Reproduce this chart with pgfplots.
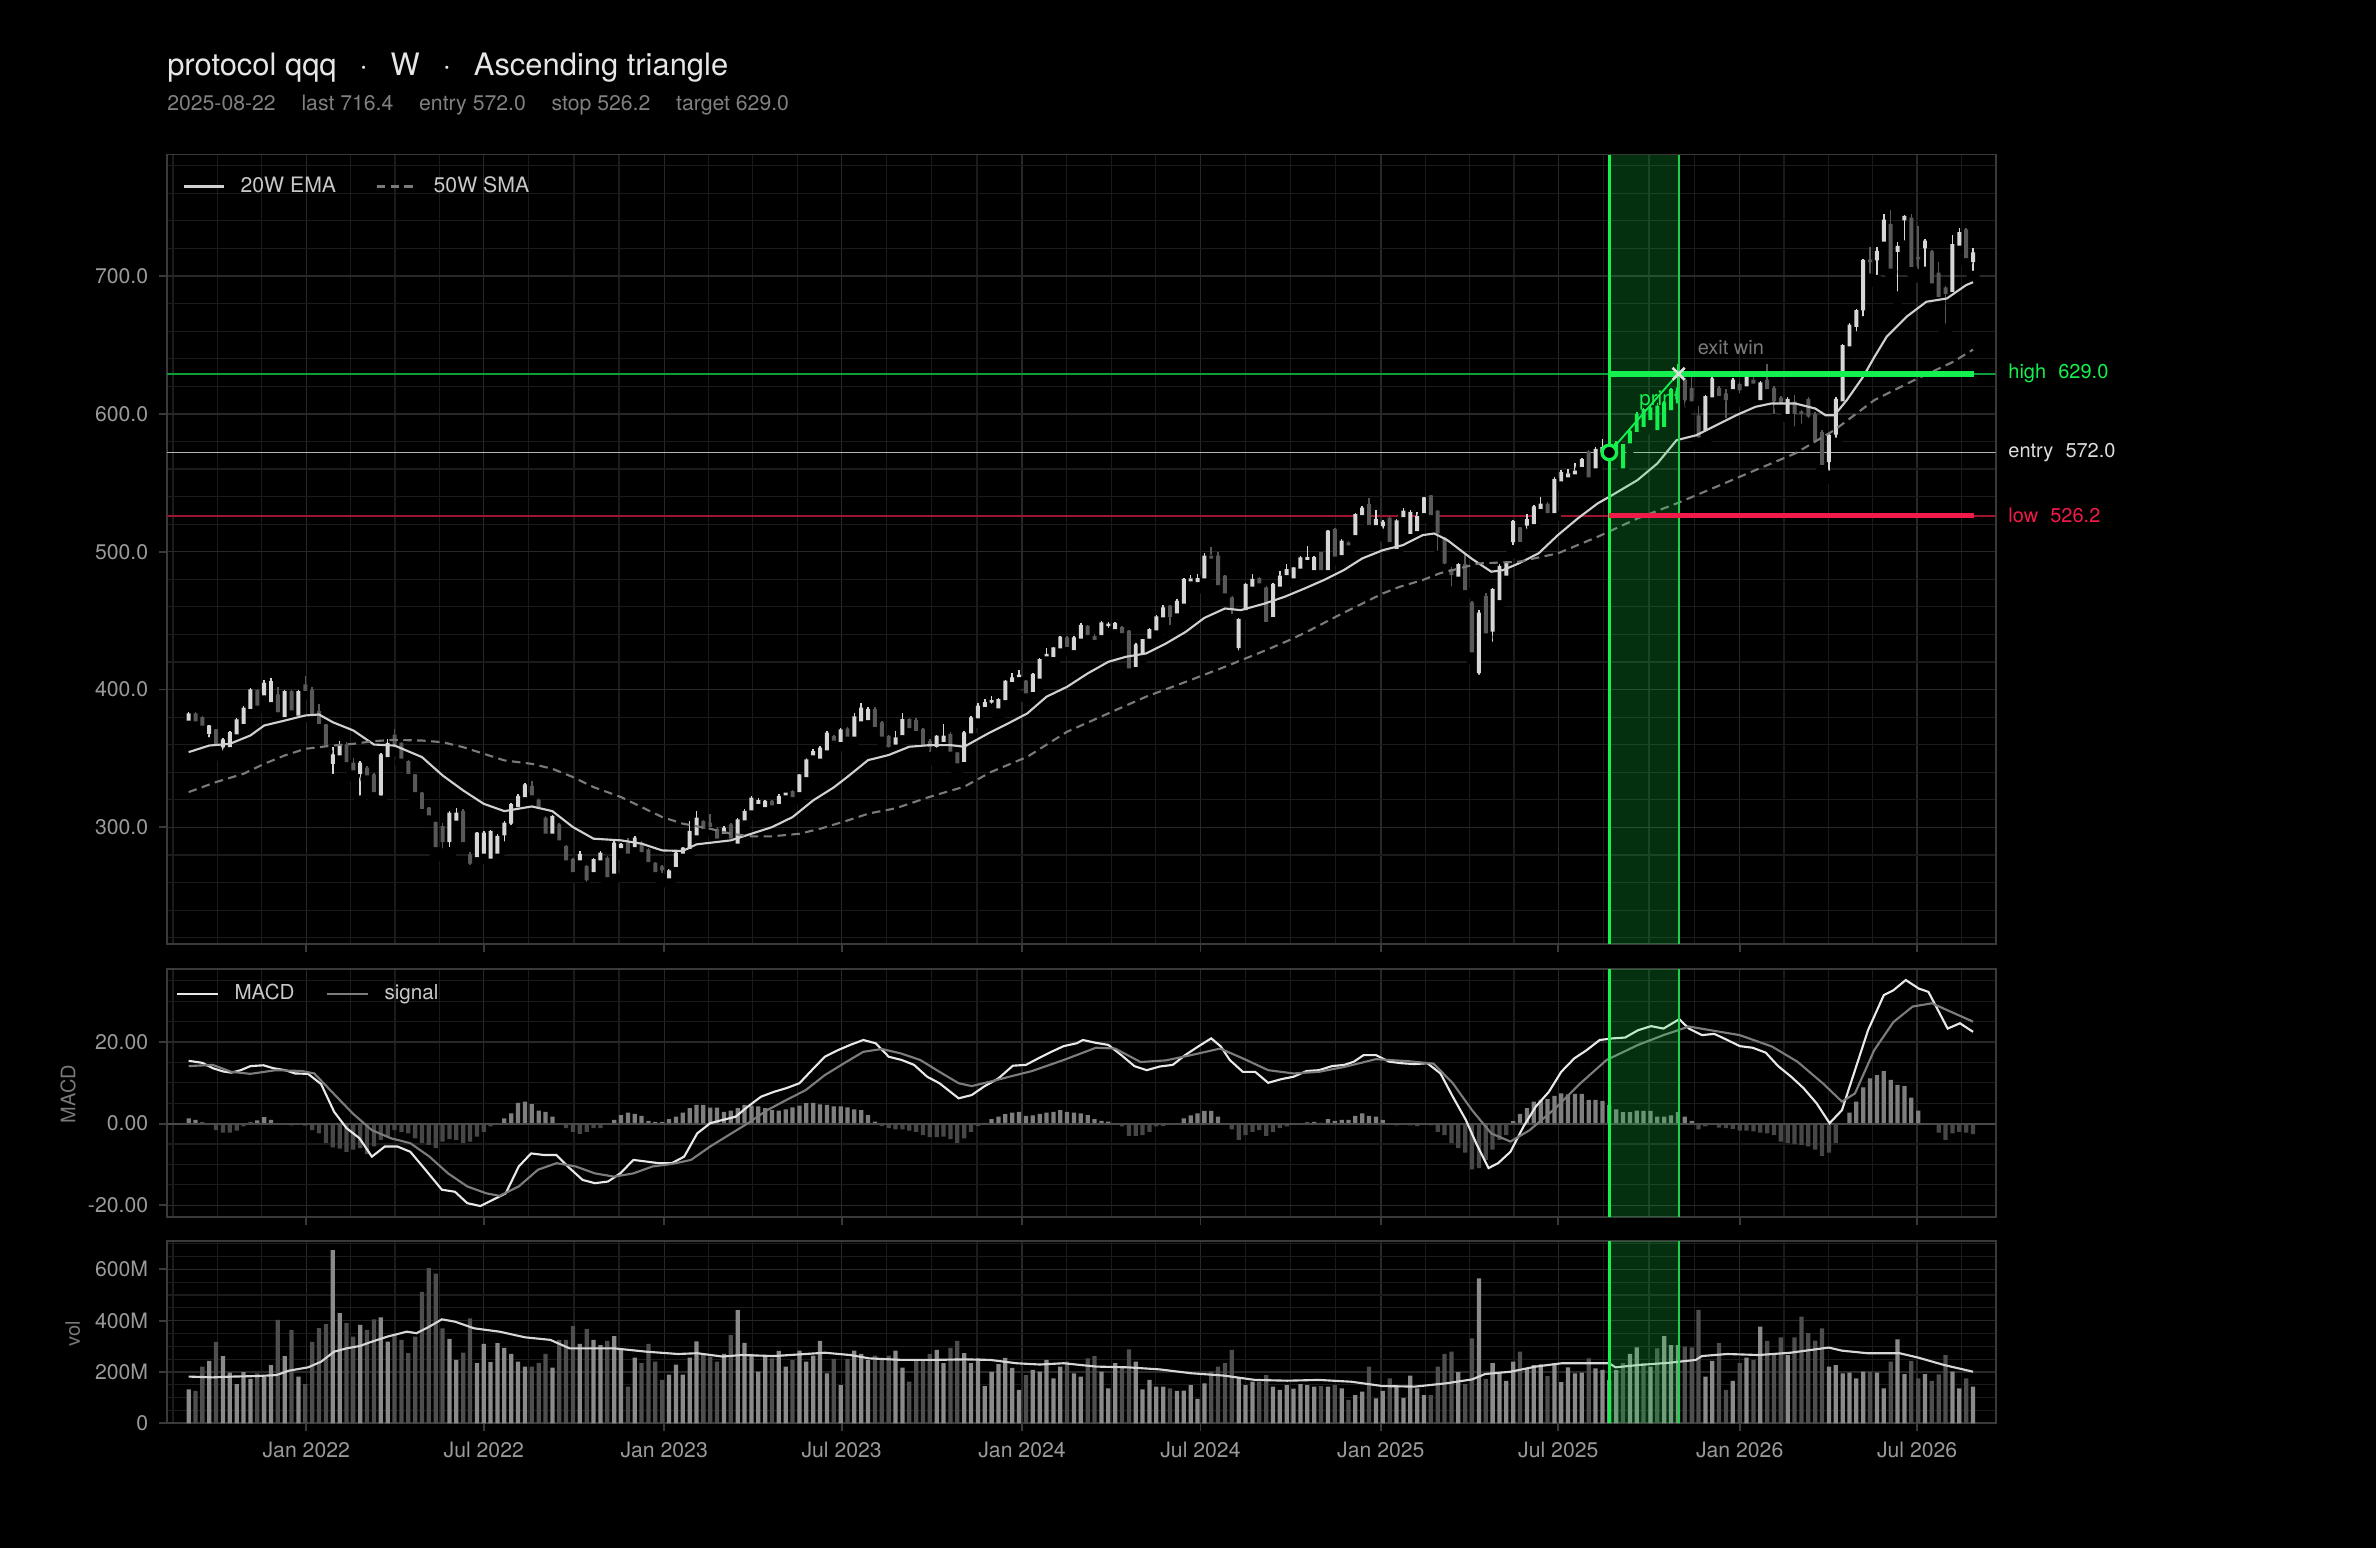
\documentclass[border=0pt]{standalone}
\usepackage{fontspec}
\setmainfont{TeX Gyre Heros}
\usepackage{pgfplots}
\usepackage{pgfplotstable}
\pgfplotsset{compat=1.18}

\definecolor{framegray}{HTML}{3A3A3A}
\definecolor{gridmajor}{HTML}{282828}
\definecolor{gridminor}{HTML}{1B1B1B}
\definecolor{ticklab}{HTML}{9A9A9A}
\definecolor{titlecol}{HTML}{E6E6E6}
\definecolor{subcol}{HTML}{808080}
\definecolor{cup}{HTML}{D6D6D6}
\definecolor{cdown}{HTML}{585858}
\definecolor{emacol}{HTML}{D0D0D0}
\definecolor{smacol}{HTML}{7A7A7A}
\definecolor{siggreen}{HTML}{14F04E}
\definecolor{thingreen}{HTML}{0E9E38}
\definecolor{sigred}{HTML}{F21A48}
\definecolor{thinred}{HTML}{9E1530}
\definecolor{entrycol}{HTML}{B4B4B4}
\definecolor{winedge}{HTML}{1FD04A}
\definecolor{volup}{HTML}{8A8A8A}
\definecolor{voldown}{HTML}{4E4E4E}
\definecolor{histup}{HTML}{7E7E7E}
\definecolor{histdown}{HTML}{474747}
\definecolor{macdcol}{HTML}{E8E8E8}
\definecolor{sigcol}{HTML}{7C7C7C}
\definecolor{legtext}{HTML}{C8C8C8}
\definecolor{labgray}{HTML}{7A7A7A}
\definecolor{xgray}{HTML}{DDDDDD}
\definecolor{zerogray}{HTML}{4A4A4A}

% weekly candles: i = week index (0 = first week, 207 = 2025-08-22)
\pgfplotstableread{
i o c h l v
0 377.5 381.9 383.5 376.0 132
1 381.9 377.0 383.5 375.5 126
2 379.2 373.9 380.5 369.5 221
3 367.9 373.2 374.5 360.6 243
4 370.3 360.6 371.5 354.6 317
5 358.0 363.0 365.0 351.0 262
6 358.2 368.4 370.0 356.0 197
7 367.4 377.5 379.0 365.5 153
8 375.1 386.0 388.0 373.5 199
9 386.0 399.3 401.0 384.5 173
10 398.8 388.4 400.5 386.5 195
11 395.7 404.1 407.0 393.0 182
12 390.8 405.3 408.5 388.0 227
13 395.7 383.6 401.7 378.7 403
14 380.0 398.0 400.0 378.0 262
15 398.0 384.8 399.5 382.0 364
16 381.0 398.0 399.5 379.0 182
17 403.0 399.0 410.0 397.5 153
18 399.3 381.2 402.0 379.0 317
19 383.6 375.1 389.6 370.3 371
20 373.9 359.4 375.0 355.0 386
21 346.1 352.2 358.2 334.0 675
22 352.2 358.2 363.0 350.0 429
23 359.4 347.3 362.0 345.0 390
24 346.1 341.3 350.0 338.0 338
25 338.9 346.1 348.0 318.4 383
26 342.5 337.7 344.5 335.0 364
27 337.7 325.6 339.5 322.0 405
28 323.2 352.2 354.0 318.4 413
29 351.0 360.6 364.0 348.5 318
30 366.5 358.2 371.5 356.0 348
31 360.6 349.8 362.0 347.0 325
32 347.3 338.9 349.0 336.0 273
33 337.7 325.6 339.0 322.0 338
34 324.4 313.5 326.0 311.0 512
35 313.5 308.7 315.0 305.0 604
36 303.1 285.7 305.0 282.0 583
37 300.2 289.4 303.0 280.0 370
38 289.4 309.9 312.0 280.9 329
39 305.0 309.9 314.0 302.0 247
40 311.1 289.4 313.0 287.0 275
41 279.7 273.7 282.0 268.0 409
42 278.5 295.4 297.0 276.0 234
43 280.9 295.4 297.5 278.0 309
44 277.3 296.6 298.0 275.0 238
45 280.9 293.0 295.0 279.0 312
46 294.2 302.7 304.5 285.0 294
47 302.7 316.0 318.0 297.0 270
48 314.7 322.0 324.0 312.0 240
49 322.0 330.4 332.0 320.0 221
50 329.2 323.2 334.0 321.0 221
51 319.6 314.7 321.0 312.0 235
52 306.3 295.4 308.0 293.0 270
53 295.4 307.5 309.0 292.0 217
54 301.4 290.6 303.0 288.0 325
55 285.7 276.1 287.0 274.0 325
56 276.1 267.6 278.0 265.0 379
57 276.0 280.0 283.0 273.0 309
58 271.3 261.6 273.0 255.6 368
59 267.6 276.1 278.0 265.0 325
60 276.1 280.9 283.0 274.0 305
61 277.3 264.0 279.0 261.0 321
62 266.4 288.2 290.0 263.5 340
63 285.0 287.0 289.0 281.0 288
64 288.2 281.0 292.0 279.0 143
65 285.7 291.8 294.0 283.0 256
66 288.2 282.1 290.0 280.0 234
67 283.3 274.9 285.0 273.0 309
68 273.7 267.6 275.0 265.0 240
69 271.0 269.0 273.0 262.0 169
70 263.0 268.0 270.0 260.0 190
71 271.3 280.9 283.0 269.0 229
72 280.9 284.5 286.0 279.0 190
73 284.5 296.6 305.0 283.0 256
74 294.2 306.3 312.0 292.0 319
75 303.9 299.0 305.5 297.0 266
76 302.7 300.2 310.0 298.0 260
77 298.0 291.8 300.0 289.0 240
78 295.4 299.0 301.0 293.0 270
79 301.4 291.8 303.0 288.0 344
80 288.2 305.1 307.0 286.0 441
81 305.1 311.1 313.0 303.0 313
82 312.3 320.8 323.0 310.0 270
83 317.0 319.0 321.0 315.0 201
84 314.7 318.4 320.0 313.0 260
85 318.4 316.0 320.0 314.0 253
86 317.1 322.0 324.0 315.0 282
87 323.2 324.4 326.0 321.0 221
88 325.6 322.0 327.0 320.0 247
89 325.6 337.7 339.0 324.0 283
90 336.5 348.6 350.0 335.0 240
91 352.2 354.6 357.0 350.0 264
92 349.8 357.0 359.0 348.0 321
93 355.8 367.9 370.0 354.0 195
94 365.5 363.0 367.0 361.0 251
95 362.0 370.3 372.0 360.0 149
96 371.0 365.8 373.0 363.0 251
97 365.8 379.8 382.7 364.0 283
98 377.0 386.0 390.0 375.0 270
99 377.8 385.1 387.0 376.0 247
100 385.0 373.0 387.0 371.0 264
101 375.4 365.8 377.0 364.0 253
102 365.8 358.5 367.0 353.0 264
103 360.0 364.5 370.0 358.0 283
104 367.0 377.8 383.0 365.0 217
105 377.8 372.0 379.0 370.0 162
106 377.0 370.0 379.0 368.0 244
107 370.6 359.7 372.0 357.0 247
108 362.0 358.5 364.0 350.0 270
109 358.5 365.8 367.0 353.0 286
110 362.0 365.8 375.0 360.0 234
111 367.0 355.0 369.0 353.0 294
112 353.7 346.4 355.0 342.0 321
113 347.6 368.2 370.0 346.0 273
114 368.2 379.0 381.0 366.0 234
115 379.0 387.5 390.0 377.0 253
116 387.5 390.0 393.0 385.0 145
117 390.5 391.5 395.0 385.0 200
118 386.3 392.3 394.0 382.0 231
119 392.3 405.6 407.0 390.0 255
120 405.6 408.0 412.0 403.0 216
121 409.0 410.0 414.0 405.0 130
122 405.6 397.2 407.0 395.0 188
123 398.4 410.5 412.0 397.0 208
124 408.0 421.3 423.0 404.0 201
125 424.0 425.0 430.0 420.0 247
126 423.7 429.8 431.0 420.0 175
127 429.8 437.5 439.0 428.0 221
128 437.0 431.0 439.0 429.0 240
129 428.6 437.0 438.5 427.0 195
130 437.0 446.2 448.0 435.0 182
131 445.5 439.5 447.0 437.0 253
132 438.0 436.0 440.0 434.0 262
133 439.5 448.0 450.0 437.0 201
134 446.0 447.0 449.0 440.0 136
135 443.8 447.5 449.0 442.0 234
136 444.5 441.0 446.0 439.0 221
137 442.0 415.3 443.0 414.0 288
138 416.5 432.0 434.0 414.0 240
139 426.0 435.8 437.0 424.0 132
140 437.0 443.0 444.5 435.0 169
141 443.0 452.3 454.0 441.0 143
142 452.3 458.8 461.0 450.0 143
143 460.0 452.8 461.5 442.0 136
144 455.3 463.6 466.0 453.0 126
145 462.4 479.4 481.0 461.0 127
146 478.4 479.8 483.0 476.0 149
147 478.0 480.0 484.0 474.0 95
148 480.7 496.4 499.0 479.0 156
149 496.4 495.0 503.5 493.0 201
150 496.4 475.8 500.0 474.0 221
151 481.8 469.7 483.0 467.0 234
152 466.0 457.6 467.5 450.0 286
153 430.0 450.4 452.0 423.6 178
154 457.6 475.8 477.0 455.0 149
155 474.6 479.4 484.0 473.0 162
156 480.0 477.0 481.5 475.0 162
157 473.3 449.1 475.0 447.0 188
158 452.8 475.8 477.0 450.0 143
159 474.6 481.8 486.0 473.0 130
160 483.0 486.6 491.0 481.0 149
161 480.6 487.8 489.0 479.0 135
162 487.8 495.0 497.0 486.0 153
163 494.0 495.2 504.0 490.0 149
164 486.6 495.2 497.0 485.0 143
165 498.8 486.6 500.0 485.0 145
166 486.6 514.4 516.0 485.0 143
167 515.6 496.4 517.0 495.0 149
168 497.6 507.2 509.0 496.0 136
169 506.0 504.5 508.0 502.0 91
170 512.0 526.5 528.0 510.0 110
171 526.5 531.2 533.0 525.0 123
172 533.7 519.2 538.6 517.0 221
173 519.2 522.8 530.0 517.0 97
174 518.5 521.0 523.0 512.0 126
175 524.0 507.2 526.0 505.0 175
176 502.0 522.0 524.0 500.0 149
177 525.0 528.9 532.0 523.0 99
178 513.0 528.0 530.0 511.0 186
179 515.0 525.0 528.9 512.0 136
180 528.0 538.6 540.0 526.0 110
181 540.0 526.5 541.0 524.0 110
182 529.0 513.2 530.0 496.0 221
183 509.6 491.4 511.0 486.0 270
184 486.6 483.0 489.0 470.0 279
185 482.0 490.2 492.0 480.0 199
186 490.2 472.1 498.0 470.0 153
187 462.4 427.0 464.0 423.0 331
188 412.0 455.0 458.0 406.0 565
189 467.0 440.7 470.0 438.0 173
190 442.0 472.3 474.0 430.0 234
191 464.9 489.0 491.0 463.0 195
192 482.7 491.0 493.0 480.0 165
193 507.0 521.4 523.0 500.0 240
194 516.8 507.2 518.0 503.0 279
195 519.0 522.8 527.0 512.0 214
196 520.0 532.0 534.0 518.0 227
197 531.0 534.0 540.0 529.0 230
198 534.0 528.0 536.0 526.0 184
199 528.0 552.0 554.0 526.0 234
200 551.0 557.0 559.0 549.0 160
201 554.0 556.0 560.0 552.0 218
202 556.0 558.0 564.0 554.0 195
203 561.6 566.4 568.0 560.0 197
204 572.0 553.9 574.0 551.0 253
205 560.4 573.7 576.0 558.0 214
206 572.0 575.0 582.0 570.0 208
207 568.0 575.0 577.0 566.0 169
208 574.0 578.0 580.0 571.0 208
209 577.3 560.4 578.0 558.0 234
210 578.5 586.9 589.0 576.0 270
211 586.9 599.1 601.0 586.0 296
212 602.7 590.6 604.0 588.0 234
213 595.4 603.9 606.0 594.0 221
214 605.1 588.2 607.5 587.0 292
215 590.6 607.5 609.0 589.0 340
216 602.7 617.2 619.0 600.0 305
217 607.5 618.4 636.5 606.0 305
218 624.0 610.0 626.0 600.0 299
219 618.0 609.0 630.0 607.0 296
220 598.0 583.0 606.0 578.0 442
221 588.0 612.0 614.0 582.0 182
222 612.0 625.0 627.0 610.0 243
223 618.0 613.0 620.0 611.0 312
224 614.0 610.0 618.0 592.0 130
225 618.0 624.0 626.0 616.0 165
226 621.0 617.0 623.0 610.0 234
227 620.0 626.0 628.0 618.0 256
228 624.0 622.0 628.0 620.0 247
229 610.0 622.0 624.0 608.0 377
230 624.0 618.0 636.0 616.0 321
231 618.0 609.0 620.0 595.0 270
232 611.0 608.0 613.0 605.0 335
233 600.0 610.0 612.0 598.0 266
234 608.0 600.0 614.0 586.0 335
235 601.0 600.0 603.0 588.0 416
236 610.0 598.0 612.0 592.0 351
237 599.0 580.0 601.0 578.0 322
238 586.0 563.0 588.0 558.0 370
239 565.0 584.0 586.0 554.0 221
240 585.0 610.0 612.0 578.0 227
241 609.0 649.0 651.0 607.0 195
242 649.0 664.0 666.0 645.0 197
243 663.0 674.5 676.0 655.0 175
244 675.0 710.8 712.0 666.0 201
245 711.0 710.0 721.0 697.0 201
246 711.4 717.5 721.0 696.0 197
247 725.0 740.0 745.0 723.0 136
248 737.0 705.4 748.0 703.0 240
249 717.5 721.0 724.8 684.0 327
250 740.4 742.8 744.0 721.0 192
251 741.6 706.6 745.0 704.0 243
252 713.0 712.0 736.0 700.0 175
253 720.0 724.8 727.0 702.0 192
254 717.0 694.7 719.0 690.0 165
255 701.7 684.9 710.0 680.0 191
256 691.0 687.0 693.0 660.7 266
257 688.4 722.3 730.0 686.0 201
258 722.0 731.0 735.0 720.0 136
259 733.0 713.0 735.0 711.0 175
260 710.0 716.4 720.0 699.0 143
}\candles

\pgfplotstableread[row sep=\\]{
i v\\ 0 354.6\\ 3 359.4\\ 6 360.6\\ 9 366.7\\ 11 373.9\\ 14 377.5\\ 17 381.2\\ 19 381.9\\ 21 376.3\\ 24 370.3\\
27 360.1\\ 30 359.4\\ 34 351.0\\ 37 337.7\\ 40 326.8\\ 43 317.1\\ 46 311.8\\ 50 315.2\\ 53 311.8\\ 56 300.2\\
59 291.8\\ 63 290.6\\ 66 288.2\\ 69 283.3\\ 72 282.9\\ 74 287.7\\ 79 290.6\\ 82 295.4\\ 85 300.2\\ 88 307.5\\
91 319.6\\ 94 329.0\\ 96 336.7\\ 99 348.8\\ 102 352.5\\ 105 358.5\\ 108 359.7\\ 111 359.7\\ 113 358.5\\ 116.5 368.2\\
119.4 375.4\\ 122.2 382.7\\ 125 394.8\\ 128 402.0\\ 131 411.7\\ 134 420.1\\ 136.6 423.8\\ 139.5 426.2\\ 142.4 433.4\\ 145.3 441.9\\
148 452.0\\ 151 458.8\\ 153.3 457.6\\ 156.8 462.4\\ 159.7 467.3\\ 162.6 473.3\\ 165.4 479.4\\ 168.3 486.6\\ 171 495.1\\ 174 501.1\\
176.9 504.7\\ 179.8 512.0\\ 181.5 513.2\\ 183.4 508.4\\ 186.9 495.1\\ 189.8 485.5\\ 191.5 486.6\\ 193.8 491.5\\ 196.7 498.8\\ 199.5 512.0\\
202.4 524.1\\ 205.3 535.0\\ 207 539.8\\ 211.1 551.9\\ 214 564.0\\ 216.8 580.9\\ 219.7 584.5\\ 222.6 591.8\\ 225.5 599.0\\ 228.3 605.1\\
230.6 607.5\\ 234.1 607.5\\ 237 603.9\\ 238.5 599.0\\ 239.8 599.0\\ 241.6 609.9\\ 244 627.0\\ 245.6 641.0\\ 247.4 655.8\\ 250.3 670.4\\
253.2 681.3\\ 256.2 683.7\\ 257.6 688.6\\ 259 693.4\\ 260 695.5\\
}\ema

\pgfplotstableread[row sep=\\]{
i v\\ 0 325.6\\ 4 332.9\\ 8 338.9\\ 11 346.1\\ 14 352.2\\ 17 357.0\\ 21 359.4\\ 24 360.6\\ 27 362.6\\ 30 363.5\\
34 363.0\\ 37 361.8\\ 40 358.2\\ 43 353.4\\ 46 348.6\\ 50 346.1\\ 53 342.5\\ 56 336.5\\ 59 329.2\\ 63 322.0\\
66 314.7\\ 69 307.5\\ 72 302.7\\ 76 299.0\\ 79 295.4\\ 82 293.5\\ 85 293.5\\ 89 295.4\\ 92 299.0\\ 96 305.0\\
99.2 310.2\\ 103 313.8\\ 108 322.2\\ 113 329.5\\ 117 340.4\\ 122.2 351.2\\ 128 369.4\\ 134 382.7\\ 139.5 394.8\\ 145.3 405.6\\
151 416.5\\ 157 428.6\\ 160 435.0\\ 163 442.0\\ 168 455.0\\ 174 469.7\\ 176.5 474.6\\ 179.8 479.4\\ 182.3 484.3\\ 188 491.5\\
193.8 492.7\\ 199.5 498.8\\ 205.3 510.8\\ 211.1 524.1\\ 216.8 535.0\\ 222.6 547.1\\ 228.3 559.2\\ 234.1 571.3\\ 239.8 588.2\\ 245.6 609.9\\
251.4 624.4\\ 257.1 637.7\\ 260 646.6\\
}\sma

\pgfplotstableread[row sep=\\]{
i v\\ 0 15.4\\ 2 14.9\\ 3.5 13.6\\ 5 12.8\\ 6.2 12.5\\ 7.6 13.1\\ 9 14.1\\ 10.9 14.3\\ 12.3 13.6\\ 14.1 13.1\\
15.5 12.3\\ 17.4 12.2\\ 19.3 9.7\\ 21.2 2.9\\ 23 -1.1\\ 24.9 -3.6\\ 26.7 -8.1\\ 28.6 -5.6\\ 30.4 -5.6\\ 32.3 -6.9\\
34.1 -10.5\\ 36.9 -16.2\\ 38.8 -16.7\\ 40.6 -19.5\\ 42.5 -20.2\\ 44.3 -18.7\\ 46.2 -17.1\\ 48.1 -10.5\\ 49.9 -7.3\\ 51.8 -7.7\\
53.6 -7.7\\ 55.5 -10.9\\ 57.4 -13.8\\ 59.2 -14.6\\ 61.1 -14.2\\ 62.9 -12.2\\ 64.8 -8.9\\ 66.7 -9.3\\ 68.5 -9.7\\ 70.4 -9.7\\
72.2 -8.1\\ 74.1 -2.4\\ 76 0.1\\ 77.8 0.9\\ 79.7 1.7\\ 81.5 4.2\\ 83.4 6.6\\ 85.3 7.8\\ 87.1 8.7\\ 89 9.9\\
90.8 13.1\\ 92.7 16.4\\ 94.6 18.0\\ 96.4 19.3\\ 98.3 20.5\\ 100.1 19.7\\ 102 16.4\\ 103.9 15.6\\ 105.7 14.4\\ 107.6 11.5\\
109.4 9.9\\ 112.2 6.2\\ 114.1 7.0\\ 115.9 9.1\\ 118 11.1\\ 120.1 14.2\\ 122 14.4\\ 123.8 16.0\\ 125.7 17.6\\ 127.5 19.0\\
129.4 19.7\\ 130.3 20.5\\ 132.2 19.8\\ 134 19.3\\ 135.9 16.8\\ 137.8 14.1\\ 139.6 13.1\\ 141.5 14.0\\ 143.4 14.4\\ 145.2 16.8\\
147.1 18.9\\ 149 20.9\\ 150.4 18.9\\ 151.7 15.6\\ 153.6 12.7\\ 155.4 12.7\\ 157.3 10.0\\ 159.2 10.9\\ 161 11.5\\ 162.9 12.9\\
164.7 13.1\\ 166.6 14.1\\ 168.4 14.4\\ 169.8 15.2\\ 171.2 16.8\\ 173 16.8\\ 174.9 15.2\\ 176.8 14.8\\ 178.6 14.6\\ 180.5 14.8\\
182.4 12.3\\ 184.2 6.6\\ 186.1 0.9\\ 187.6 -4.8\\ 189.4 -10.9\\ 190.8 -9.7\\ 192.6 -6.9\\ 194.5 -0.7\\ 196.3 4.2\\ 198.2 7.8\\
200 12.7\\ 201.9 16.0\\ 203.7 18.0\\ 205.6 20.5\\ 207.5 20.9\\ 209.3 21.1\\ 211.2 22.9\\ 213.1 23.9\\ 214.9 23.3\\ 217.2 25.6\\
218.6 23.3\\ 220.5 21.7\\ 222.3 22.0\\ 224.2 20.5\\ 226 19.0\\ 227.9 18.6\\ 229.8 17.4\\ 231.6 14.1\\ 233.5 11.5\\ 235.3 8.7\\
237.2 5.0\\ 239.1 0.1\\ 240.9 3.3\\ 242.8 13.1\\ 244.7 22.9\\ 247 31.5\\ 248.4 32.7\\ 250.2 35.2\\ 252.1 33.1\\ 253.5 32.3\\
254.9 27.8\\ 256.3 23.3\\ 258.1 24.6\\ 260 22.5\\
}\macd

\pgfplotstableread[row sep=\\]{
i v\\ 0 14.1\\ 3.5 14.4\\ 6.2 12.7\\ 9 12.2\\ 12.7 13.1\\ 16.5 12.9\\ 18.3 12.3\\ 21.1 7.4\\ 23.9 2.5\\ 26.7 -1.6\\
29.5 -3.6\\ 32.3 -4.8\\ 35.1 -8.1\\ 37.8 -12.2\\ 40.6 -15.4\\ 43.4 -17.1\\ 45.3 -17.7\\ 48.1 -15.4\\ 50.9 -11.3\\ 53.6 -9.7\\
56.4 -10.5\\ 59.2 -12.2\\ 62 -13.0\\ 64.8 -12.2\\ 67.6 -10.5\\ 70.4 -9.9\\ 73.2 -8.9\\ 76 -5.6\\ 78.7 -2.8\\ 81.5 0.1\\
84.3 3.3\\ 87.1 5.8\\ 89.9 8.2\\ 92.7 11.9\\ 95.5 14.8\\ 98.3 17.6\\ 101 18.3\\ 103.8 17.2\\ 106.6 15.6\\ 109.4 12.7\\
112.2 9.9\\ 114.1 9.2\\ 116.8 10.3\\ 119.6 11.5\\ 122.9 12.9\\ 127.5 15.6\\ 132.2 18.6\\ 135 18.4\\ 138.7 15.1\\ 142.4 15.5\\
146.1 16.8\\ 150.3 18.4\\ 153.6 16.0\\ 157.3 13.1\\ 161 12.3\\ 164.7 12.7\\ 168.4 13.9\\ 173 15.8\\ 177.8 15.3\\ 181.4 14.7\\
184.2 9.9\\ 187 3.3\\ 189.8 -2.4\\ 192.6 -4.4\\ 195.4 -1.6\\ 199.1 3.7\\ 202.8 9.9\\ 206.6 15.6\\ 211.2 19.3\\ 214.9 21.7\\
218.6 23.8\\ 221.4 23.0\\ 226 21.7\\ 230.7 18.9\\ 234.4 15.2\\ 238.1 9.9\\ 240.9 5.4\\ 242.8 7.4\\ 245.6 18.0\\ 248.4 24.9\\
251.2 28.7\\ 254 29.5\\ 256.8 27.4\\ 260 25.0\\
}\signal

\pgfplotstableread[row sep=\\]{
i h\\ 0 1.3\\ 1 0.9\\ 2 0.3\\ 3 0.0\\ 4 -1.6\\ 5 -2.2\\ 6 -2.2\\ 7 -1.7\\ 8 -0.7\\ 9 0.3\\
10 0.8\\ 11 1.6\\ 12 0.9\\ 13 0.1\\ 14 0.1\\ 15 -0.4\\ 16 -0.3\\ 17 -0.5\\ 18 -1.6\\ 19 -2.4\\
20 -4.7\\ 21 -5.8\\ 22 -6.1\\ 23 -6.9\\ 24 -6.4\\ 25 -6.0\\ 26 -7.5\\ 27 -5.6\\ 28 -4.0\\ 29 -3.2\\
30 -1.6\\ 31 -2.0\\ 32 -2.4\\ 33 -3.6\\ 34 -4.7\\ 35 -5.2\\ 36 -6.0\\ 37 -4.4\\ 38 -3.8\\ 39 -4.0\\
40 -4.8\\ 41 -4.4\\ 42 -3.2\\ 43 -2.0\\ 44 -0.7\\ 45 0.0\\ 46 1.3\\ 47 2.5\\ 48 5.1\\ 49 5.4\\
50 4.8\\ 51 3.2\\ 52 2.9\\ 53 1.7\\ 54 0.0\\ 55 -1.1\\ 56 -2.0\\ 57 -2.5\\ 58 -2.0\\ 59 -1.1\\
60 -1.1\\ 61 0.0\\ 62 0.9\\ 63 2.1\\ 64 2.7\\ 65 2.4\\ 66 1.9\\ 67 0.7\\ 68 0.4\\ 69 0.4\\
70 1.1\\ 71 1.7\\ 72 2.7\\ 73 3.8\\ 74 4.6\\ 75 4.6\\ 76 3.9\\ 77 3.9\\ 78 2.9\\ 79 3.2\\
80 3.8\\ 81 4.6\\ 82 4.4\\ 83 4.2\\ 84 3.8\\ 85 3.3\\ 86 3.2\\ 87 3.5\\ 88 4.0\\ 89 4.4\\
90 5.0\\ 91 5.1\\ 92 4.7\\ 93 4.6\\ 94 4.2\\ 95 4.2\\ 96 4.0\\ 97 3.5\\ 98 3.3\\ 99 2.1\\
100 0.5\\ 101 -0.6\\ 102 -1.1\\ 103 -1.4\\ 104 -1.4\\ 105 -1.7\\ 106 -2.0\\ 107 -2.8\\ 108 -3.3\\ 109 -3.3\\
110 -3.2\\ 111 -3.8\\ 112 -4.7\\ 113 -3.6\\ 114 -2.0\\ 115 -0.6\\ 116 0.2\\ 117 1.1\\ 118 1.7\\ 119 2.3\\
120 2.7\\ 121 2.9\\ 122 1.9\\ 123 2.0\\ 124 2.4\\ 125 2.7\\ 126 2.9\\ 127 3.3\\ 128 2.9\\ 129 2.7\\
130 2.5\\ 131 2.1\\ 132 1.1\\ 133 0.7\\ 134 0.5\\ 135 0.0\\ 136 -0.7\\ 137 -3.0\\ 138 -3.0\\ 139 -2.8\\
140 -2.0\\ 141 -0.7\\ 142 -0.6\\ 143 -0.3\\ 144 0.0\\ 145 1.3\\ 146 2.0\\ 147 2.5\\ 148 3.1\\ 149 3.1\\
150 1.7\\ 151 0.0\\ 152 -1.4\\ 153 -4.0\\ 154 -2.8\\ 155 -2.0\\ 156 -1.6\\ 157 -3.0\\ 158 -2.0\\ 159 -1.1\\
160 -0.7\\ 161 -0.3\\ 162 0.0\\ 163 0.3\\ 164 0.4\\ 165 0.2\\ 166 1.1\\ 167 0.7\\ 168 0.9\\ 169 0.9\\
170 1.9\\ 171 2.5\\ 172 1.9\\ 173 1.7\\ 174 0.9\\ 175 -0.2\\ 176 -0.4\\ 177 -0.2\\ 178 -0.4\\ 179 -0.6\\
180 0.0\\ 181 -0.4\\ 182 -2.0\\ 183 -2.8\\ 184 -4.8\\ 185 -6.0\\ 186 -7.1\\ 187 -11.2\\ 188 -10.9\\ 189 -8.9\\
190 -6.4\\ 191 -4.0\\ 192 -2.8\\ 193 0.6\\ 194 2.4\\ 195 3.8\\ 196 5.4\\ 197 5.8\\ 198 6.0\\ 199 6.8\\
200 7.4\\ 201 7.2\\ 202 7.3\\ 203 7.3\\ 204 5.8\\ 205 5.8\\ 206 5.6\\ 207 4.6\\ 208 3.5\\ 209 2.8\\
210 2.8\\ 211 3.2\\ 212 3.1\\ 213 3.1\\ 214 1.7\\ 215 1.7\\ 216 2.0\\ 217 2.8\\ 218 1.7\\ 219 0.7\\
220 -1.4\\ 221 -0.7\\ 222 -0.3\\ 223 -1.0\\ 224 -1.1\\ 225 -1.3\\ 226 -1.7\\ 227 -1.7\\ 228 -1.9\\ 229 -2.2\\
230 -2.4\\ 231 -2.8\\ 232 -4.4\\ 233 -4.7\\ 234 -5.0\\ 235 -5.2\\ 236 -5.6\\ 237 -6.4\\ 238 -7.9\\ 239 -7.1\\
240 -4.7\\ 241 0.0\\ 242 2.7\\ 243 5.4\\ 244 8.9\\ 245 11.1\\ 246 11.9\\ 247 12.9\\ 248 10.7\\ 249 9.5\\
250 9.2\\ 251 6.4\\ 252 3.2\\ 253 0.1\\ 254 0.0\\ 255 -2.2\\ 256 -4.0\\ 257 -2.4\\ 258 -2.0\\ 259 -2.2\\
260 -2.6\\
}\hist

\pgfplotstableread[row sep=\\]{
i v\\ 0 182\\ 3.5 179\\ 6.3 182\\ 10 184\\ 12.8 188\\ 14.6 205\\ 17.4 218\\ 19.3 240\\ 21.2 279\\ 23 292\\
24.9 301\\ 26.7 318\\ 29 338\\ 31.8 357\\ 33.2 351\\ 35.1 377\\ 36.9 405\\ 38.8 396\\ 41.6 370\\ 45.3 357\\
49 335\\ 52.7 325\\ 55.5 292\\ 59.2 292\\ 62 292\\ 66.7 279\\ 71.3 270\\ 74.1 273\\ 77.8 260\\ 80.6 266\\
85.3 262\\ 89.9 270\\ 92.7 275\\ 96.4 266\\ 99.2 253\\ 103.9 247\\ 108.5 247\\ 113.1 249\\ 116.8 247\\ 120.6 234\\
124 229\\ 127.5 234\\ 132.2 221\\ 136.9 218\\ 141.5 210\\ 146.1 195\\ 150.8 186\\ 155.4 169\\ 160.1 166\\ 164.7 169\\
169.4 162\\ 174 145\\ 178.7 143\\ 183.3 156\\ 187 171\\ 188.9 192\\ 192.6 201\\ 196.3 221\\ 200.1 234\\ 203.7 234\\
207 234\\ 207.9 218\\ 211.2 227\\ 215.8 236\\ 219.6 247\\ 220.5 262\\ 224.2 270\\ 228.8 266\\ 233.4 275\\ 238.1 292\\
239 295\\ 240.9 283\\ 244.6 273\\ 249.3 273\\ 252 256\\ 255.8 227\\ 260 201\\
}\volavg

\pgfplotsset{
  panel/.style={
    scale only axis, width=603.5pt, anchor=south west,
    xmin=-3.2, xmax=263.3, enlargelimits=false,
    axis line style={draw=framegray, line width=0.6pt},
    grid=both,
    major grid style={draw=gridmajor, line width=0.45pt},
    minor grid style={draw=gridminor, line width=0.4pt},
    xtick={17.14,43.0,69.29,95.14,121.43,147.43,173.71,199.57,226.0,251.86},
    minor xtick={-2.27,4.2,10.67,23.6,30.07,36.54,49.57,56.14,62.72,75.75,82.21,88.68,101.71,108.29,114.86,127.93,134.43,140.93,154.0,160.57,167.14,180.18,186.64,193.11,206.18,212.79,219.39,232.47,238.93,245.4,258.33},
    tick align=outside, major tick length=2.6pt, minor tick length=0pt,
    tick style={draw=framegray, line width=0.6pt},
    xtick pos=left, ytick pos=left,
    tick label style={font=\fontsize{7.0}{8}\selectfont, text=ticklab},
    /pgf/number format/assume math mode=true,
    clip mode=individual,
    legend image code/.code={\draw[##1] (0pt,0pt) -- (13.5pt,0pt);},
  },
  pricebox/.style={panel, at={(55pt,199.3pt)}, height=260.5pt, ymin=215.4, ymax=788.1},
  overlay/.style={pricebox, hide axis, grid=none},
  wick/.style={forget plot, only marks, mark=none,
    error bars/y dir=plus, error bars/y explicit, error bars/error mark=none,
    error bars/error bar style={draw=#1, line width=0.5pt}},
}
\newcommand{\inwin}{((\thisrow{i}>206.5)*(\thisrow{i}<217.5))}
\newcommand{\bodyh}{(abs(\thisrow{c}-\thisrow{o})+0.8)}
\newcommand{\isup}{((\thisrow{c}-\thisrow{o})>(-0.0001))}

\newcommand{\windowmarks}[2]{%
  \fill[siggreen, opacity=0.2] (axis cs:207,#1) rectangle (axis cs:217.2,#2);
  \draw[siggreen, line width=1.1pt] (axis cs:207,#1) -- (axis cs:207,#2);
  \draw[winedge, line width=0.6pt] (axis cs:217.2,#1) -- (axis cs:217.2,#2);
}

\begin{document}
\begin{tikzpicture}
\useasboundingbox (0,0) rectangle (784pt,510.8pt);
\fill[black] (0,0) rectangle (784pt,510.8pt);

\node[anchor=base west, inner sep=0, text=titlecol, font=\fontsize{10.2}{12}\selectfont] at (55pt,485.9pt)
  {protocol qqq\hspace{7.5pt}·\hspace{7.5pt}W\hspace{7.5pt}·\hspace{7.5pt}Ascending triangle};
\node[anchor=base west, inner sep=0, text=subcol, font=\fontsize{7.0}{8}\selectfont] at (55pt,474.2pt)
  {2025-08-22\hspace{8.5pt}last 716.4\hspace{8.5pt}entry 572.0\hspace{8.5pt}stop 526.2\hspace{8.5pt}target 629.0};

% ---------------- price panel: frame, grid, levels, wicks ----------------
\begin{axis}[pricebox,
  ytick={300,400,500,600,700}, yticklabels={300.0,400.0,500.0,600.0,700.0},
  minor ytick={220,240,...,780},
  xticklabels={},
]
\addplot[forget plot, thingreen, line width=0.7pt] coordinates {(-3.2,629) (263.3,629)};
\addplot[forget plot, entrycol, line width=0.55pt] coordinates {(-3.2,572) (263.3,572)};
\addplot[forget plot, thinred, line width=0.7pt] coordinates {(-3.2,526.2) (263.3,526.2)};
\addplot[forget plot, siggreen, line width=0.6pt] coordinates {(207,572) (217,629)};
\node[text=siggreen, font=\fontsize{6.8}{8}\selectfont, inner sep=0] at (axis cs:214.3,610) {print};
\addplot[wick=cup, restrict expr to domain={\thisrow{c}-\thisrow{o}+1000*\inwin}{0:500}]
  table[x=i, y=l, y error plus expr={\thisrow{h}-\thisrow{l}}]{\candles};
\addplot[wick=cdown, restrict expr to domain={\thisrow{c}-\thisrow{o}+1000*\inwin}{-500:-0.0001}]
  table[x=i, y=l, y error plus expr={\thisrow{h}-\thisrow{l}}]{\candles};
\addplot[wick=siggreen, restrict expr to domain={\thisrow{i}}{206.5:217.5}]
  table[x=i, y=l, y error plus expr={\thisrow{h}-\thisrow{l}}]{\candles};
\end{axis}

% ---------------- candle bodies (stacked bars on an invisible base) ----------------
\begin{axis}[overlay, ybar stacked, bar width=0.58]
\addplot[forget plot, draw=none, fill=none] table[x=i, y expr={min(\thisrow{o},\thisrow{c})}]{\candles};
\addplot[forget plot, draw=none, fill=cup] table[x=i, y expr={\bodyh*\isup*(1-\inwin)}]{\candles};
\addplot[forget plot, draw=none, fill=cdown] table[x=i, y expr={\bodyh*(1-\isup)*(1-\inwin)}]{\candles};
\addplot[forget plot, draw=none, fill=siggreen] table[x=i, y expr={\bodyh*\inwin}]{\candles};
\end{axis}

% ---------------- averages, trade window, levels, markers ----------------
\begin{axis}[overlay,
  legend columns=2,
  legend style={at={(0,1)}, anchor=north west, xshift=3pt, yshift=-3pt, draw=none, fill=none,
    inner sep=2pt, nodes={inner sep=2pt, text=legtext}, font=\fontsize{7.0}{8}\selectfont,
    /tikz/every odd column/.append style={column sep=3pt},
    /tikz/every even column/.append style={column sep=11pt}},
]
\addplot[emacol, line width=0.7pt] table[x=i, y=v]{\ema};
\addlegendentry{20W EMA}
\addplot[smacol, line width=0.7pt, dash pattern=on 2.8pt off 1.8pt] table[x=i, y=v]{\sma};
\addlegendentry{50W SMA}

\windowmarks{215.4}{788.1}

\addplot[forget plot, siggreen, line width=1.8pt] coordinates {(207,629) (260.1,629)};
\addplot[forget plot, sigred, line width=1.8pt] coordinates {(207,526.2) (260.1,526.2)};
\addplot[forget plot, only marks, mark=*, mark size=2.4pt, mark options={draw=siggreen, fill=black, line width=1.1pt}] coordinates {(207,572)};
\addplot[forget plot, only marks, mark=x, mark size=2.8pt, mark options={draw=xgray, line width=0.9pt}] coordinates {(217.1,629)};
\node[anchor=west, inner sep=0, text=labgray, font=\fontsize{6.6}{8}\selectfont] at (axis cs:219.8,648.4) {exit win};

\node[anchor=west, inner sep=0, xshift=4pt, text=siggreen, font=\fontsize{6.6}{8}\selectfont] at (axis cs:263.3,629) {high\hspace{4pt}629.0};
\node[anchor=west, inner sep=0, xshift=4pt, text=xgray, font=\fontsize{6.6}{8}\selectfont] at (axis cs:263.3,572) {entry\hspace{4pt}572.0};
\node[anchor=west, inner sep=0, xshift=4pt, text=sigred, font=\fontsize{6.6}{8}\selectfont] at (axis cs:263.3,526.2) {low\hspace{4pt}526.2};
\end{axis}

% ---------------- MACD panel ----------------
\begin{axis}[panel, at={(55pt,109.35pt)}, height=81.7pt,
  ymin=-22.8, ymax=37.9,
  ytick={-20,0,20}, yticklabels={-20.00,0.00,20.00},
  minor ytick={-20,-15,...,35},
  xticklabels={},
  legend columns=2,
  legend style={at={(0,1)}, anchor=north west, xshift=1pt, yshift=-0.8pt, draw=none, fill=none,
    inner sep=2pt, nodes={inner sep=2pt, text=legtext}, font=\fontsize{6.8}{8}\selectfont,
    /tikz/every odd column/.append style={column sep=3pt},
    /tikz/every even column/.append style={column sep=8.5pt}},
]
\addplot[forget plot, ybar, bar width=0.62, bar shift=0pt, fill=histup, draw=none, restrict y to domain=0:100] table[x=i, y=h]{\hist};
\addplot[forget plot, ybar, bar width=0.62, bar shift=0pt, fill=histdown, draw=none, restrict y to domain=-100:0] table[x=i, y=h]{\hist};
\addplot[forget plot, color=zerogray, line width=0.6pt] coordinates {(-3.2,0) (263.3,0)};
\addplot[macdcol, line width=0.7pt] table[x=i, y=v]{\macd};
\addlegendentry{MACD}
\addplot[sigcol, line width=0.7pt] table[x=i, y=v]{\signal};
\addlegendentry{signal}
\windowmarks{-22.8}{37.9}
\end{axis}

% ---------------- volume panel ----------------
\begin{axis}[panel, at={(55pt,41.15pt)}, height=60.15pt,
  ymin=0, ymax=710,
  ytick={0,200,400,600}, yticklabels={0,200M,400M,600M},
  minor ytick={0,50,...,700},
  xticklabels={Jan 2022,Jul 2022,Jan 2023,Jul 2023,Jan 2024,Jul 2024,Jan 2025,Jul 2025,Jan 2026,Jul 2026},
]
\addplot[forget plot, ybar, bar width=0.62, bar shift=0pt, fill=volup, draw=none,
  restrict expr to domain={\thisrow{c}-\thisrow{o}}{0:500}] table[x=i, y=v]{\candles};
\addplot[forget plot, ybar, bar width=0.62, bar shift=0pt, fill=voldown, draw=none,
  restrict expr to domain={\thisrow{c}-\thisrow{o}}{-500:-0.0001}] table[x=i, y=v]{\candles};
\addplot[forget plot, color=cup, line width=0.7pt] table[x=i, y=v]{\volavg};
\windowmarks{0}{710}
\end{axis}

\node[rotate=90, text=labgray, font=\fontsize{6.6}{8}\selectfont] at (22.5pt,149.8pt) {MACD};
\node[rotate=90, text=labgray, font=\fontsize{6.6}{8}\selectfont] at (24pt,70.8pt) {vol};
\end{tikzpicture}
\end{document}
